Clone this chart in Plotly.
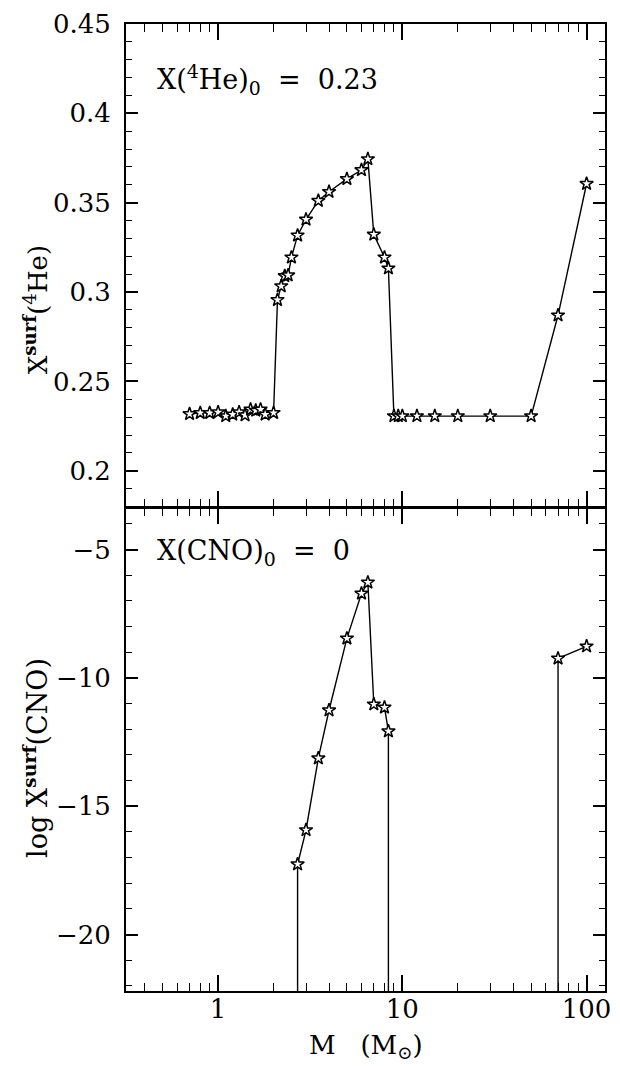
import plotly.graph_objects as go
from plotly.subplots import make_subplots

# ---- data ----
mass = [0.7, 0.8, 0.9, 1.0, 1.1, 1.2, 1.3, 1.4, 1.5, 1.6, 1.7, 1.8, 2.0,
        2.1, 2.2, 2.3, 2.4, 2.5, 2.7, 3.0, 3.5, 4.0, 5.0, 6.0, 6.5, 7.0,
        8.0, 8.4, 9.0, 9.5, 10, 12, 15, 20, 30, 50, 70, 100]
x_he_surf = [0.2318, 0.2324, 0.2324, 0.2328, 0.2306, 0.2315, 0.2328, 0.2311,
             0.2343, 0.2337, 0.2343, 0.2315, 0.2324,
             0.2956, 0.3033, 0.3090, 0.3094, 0.3194, 0.3317, 0.3406, 0.3511,
             0.3561, 0.3633, 0.3683, 0.3744, 0.3322, 0.3194, 0.3133,
             0.2306, 0.2306, 0.2306, 0.2306, 0.2306, 0.2306, 0.2306, 0.2306,
             0.2870, 0.3606]
# log X_surf(CNO); None = zero abundance (log -> -infinity)
log_cno_surf = [None] * 18 + [-17.26, -15.93, -13.13, -11.26, -8.46, -6.71,
                              -6.28, -11.03, -11.15, -12.08] + [None] * 8 + [-9.24, -8.77]

x_tickvals = [1, 10, 100]
x_ticktext = ["1", "10", "100"]
x_minor = [0.4, 0.5, 0.6, 0.7, 0.8, 0.9, 2, 3, 4, 5, 6, 7, 8, 9,
           20, 30, 40, 50, 60, 70, 80, 90]
he_tickvals = [0.2, 0.25, 0.3, 0.35, 0.4, 0.45]
he_ticktext = ["0.2", "0.25", "0.3", "0.35", "0.4", "0.45"]
cno_tickvals = [-20, -15, -10, -5]
cno_ticktext = ["\u221220", "\u221215", "\u221210", "\u22125"]

X_RANGE = [-0.5, 2.1]        # log10 of mass
HE_RANGE = [0.18, 0.45]
CNO_RANGE = [-22.2, -3.4]

FONT = "DejaVu Serif"
PLOT_H = 1066 - 19 - 75

fig = make_subplots(rows=2, cols=1, shared_xaxes=True,
                    vertical_spacing=2 / PLOT_H)

marker = dict(symbol="star", size=10, color="white",
              line=dict(color="black", width=1.5))
line = dict(color="black", width=1.4)

fig.add_trace(go.Scatter(x=mass, y=x_he_surf, mode="lines+markers",
                         line=line, marker=marker, showlegend=False),
              row=1, col=1)

# vertical drops where a neighbouring model has zero CNO (log = -inf)
floor = CNO_RANGE[0] - 50
for i, v in enumerate(log_cno_surf):
    if v is None:
        continue
    left_zero = i > 0 and log_cno_surf[i - 1] is None
    right_zero = i < len(log_cno_surf) - 1 and log_cno_surf[i + 1] is None
    if left_zero or right_zero:
        fig.add_trace(go.Scatter(x=[mass[i], mass[i]], y=[v, floor],
                                 mode="lines", line=line, showlegend=False),
                      row=2, col=1)

fig.add_trace(go.Scatter(x=mass, y=log_cno_surf, mode="lines+markers",
                         connectgaps=False, line=line, marker=marker,
                         showlegend=False),
              row=2, col=1)

axis_common = dict(showline=True, linecolor="black", linewidth=2,
                   mirror="allticks", ticks="inside", tickcolor="black",
                   showgrid=False, zeroline=False)

for r in (1, 2):
    fig.update_xaxes(type="log", range=X_RANGE, tickmode="array",
                     tickvals=x_tickvals, ticktext=x_ticktext,
                     ticklen=16, tickwidth=1.5,
                     ticklabelstandoff=-6,
                     minor=dict(tickmode="array", tickvals=x_minor,
                                ticks="inside", ticklen=8, tickwidth=1.3,
                                tickcolor="black", showgrid=False),
                     showticklabels=(r == 2), row=r, col=1, **axis_common)

fig.update_yaxes(range=HE_RANGE, tickmode="array", tickvals=he_tickvals,
                 ticktext=he_ticktext, ticklen=12, tickwidth=1.5,
                 ticklabelstandoff=8,
                 minor=dict(dtick=0.01, tick0=0.2, ticks="inside", ticklen=6,
                            tickwidth=1.3, tickcolor="black", showgrid=False),
                 row=1, col=1, **axis_common)
fig.update_yaxes(range=CNO_RANGE, tickmode="array", tickvals=cno_tickvals,
                 ticktext=cno_ticktext, ticklen=12, tickwidth=1.5,
                 ticklabelstandoff=8,
                 minor=dict(dtick=1, tick0=0, ticks="inside", ticklen=6,
                            tickwidth=1.3, tickcolor="black", showgrid=False),
                 row=2, col=1, **axis_common)

nb = "\u00a0"
fig.add_annotation(text=f"X(<sup>4</sup>He)<sub>0</sub>{nb}{nb}={nb}{nb}0.23",
                   xref="x domain", yref="y domain", x=0.06, y=0.885,
                   xanchor="left", yanchor="middle", showarrow=False,
                   font=dict(size=27))
fig.add_annotation(text=f"X(CNO)<sub>0</sub>{nb}{nb}={nb}{nb}0",
                   xref="x2 domain", yref="y2 domain", x=0.06, y=0.909,
                   xanchor="left", yanchor="middle", showarrow=False,
                   font=dict(size=27))
fig.add_annotation(text="X<sup><b>surf</b></sup>(<sup>4</sup>He)",
                   xref="paper", yref="paper", x=-0.188, y=0.705,
                   textangle=-90, xanchor="center", yanchor="middle",
                   showarrow=False, font=dict(size=26, color="black"))
fig.add_annotation(text="log X<sup><b>surf</b></sup>(CNO)",
                   xref="paper", yref="paper", x=-0.188, y=0.241,
                   textangle=-90, xanchor="center", yanchor="middle",
                   showarrow=False, font=dict(size=27, color="black"))
fig.add_annotation(text=f"M{nb}{nb}{nb}(M<sub>\u2299</sub>)",
                   xref="paper", yref="paper", x=0.5, y=-0.057,
                   xanchor="center", yanchor="middle",
                   showarrow=False, font=dict(size=26, color="black"))

fig.update_layout(width=620, height=1066,
                  margin=dict(l=126, r=9, t=19, b=75),
                  paper_bgcolor="white", plot_bgcolor="white",
                  font=dict(family=FONT, size=26, color="black"))

fig.write_html("out.html",
               config={"displayModeBar": False},
               post_script="document.body.style.margin='0';"
                           "document.body.style.padding='0';")
